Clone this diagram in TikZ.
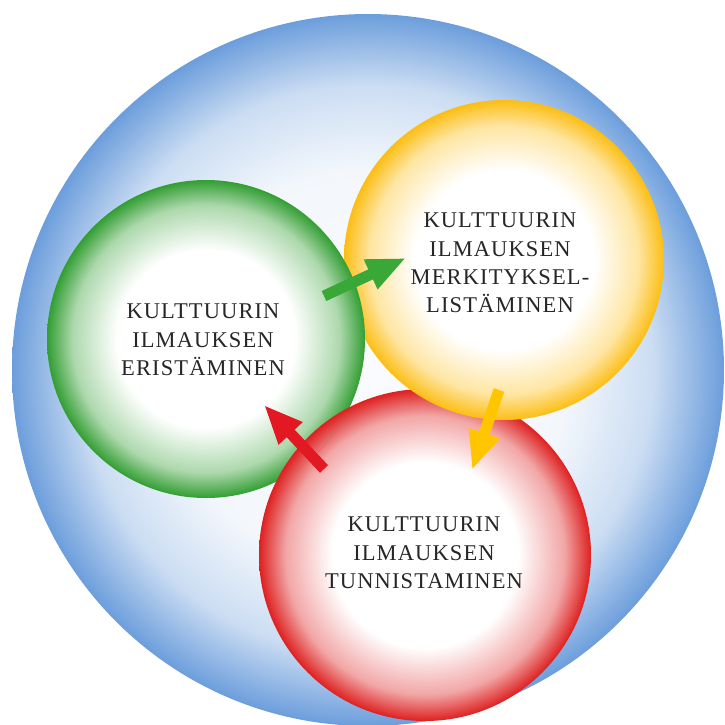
\documentclass[tikz,border=0pt]{standalone}
\usepackage{fontspec}
\setmainfont{Liberation Serif}[LetterSpace=5]
\usetikzlibrary{arrows.meta}
\tikzset {>={Triangle[length=7.8mm,width=6mm]}}
\definecolor{bluerim}{RGB}{108,158,220}
\definecolor{greenrim}{RGB}{50,158,50}
\definecolor{yellowrim}{RGB}{252,190,20}
\definecolor{redrim}{RGB}{222,32,32}
\definecolor{greenarrow}{RGB}{58,168,55}
\definecolor{yellowarrow}{RGB}{255,198,0}
\definecolor{redarrow}{RGB}{226,24,34}
\pgfdeclareradialshading{blueball}{\pgfpoint{0bp}{0bp}}{color(0bp)=(bluerim!4); color(14bp)=(bluerim!8); color(20bp)=(bluerim!35); color(25bp)=(bluerim); color(50bp)=(bluerim)}
\pgfdeclareradialshading{greenball}{\pgfpoint{0bp}{0bp}}{color(0bp)=(white); color(14bp)=(white); color(21bp)=(greenrim!40); color(25bp)=(greenrim); color(50bp)=(greenrim)}
\pgfdeclareradialshading{yellowball}{\pgfpoint{0bp}{0bp}}{color(0bp)=(white); color(14bp)=(white); color(21bp)=(yellowrim!40); color(25bp)=(yellowrim); color(50bp)=(yellowrim)}
\pgfdeclareradialshading{redball}{\pgfpoint{0bp}{0bp}}{color(0bp)=(white); color(14bp)=(white); color(21bp)=(redrim!40); color(25bp)=(redrim); color(50bp)=(redrim)}
\newcommand*{\lbl}{\fontsize{12.8}{16.2}\selectfont}

\begin{document}
\begin{tikzpicture}[x=0.2mm,y=-0.2mm,
  txt/.style={align=center,text=black!85,font=\lbl},
  fat/.style={->,line width=2.2mm}]
\useasboundingbox (0,0) rectangle (725,725);
\shade[shading=blueball] (368,370) circle (356);
\coordinate (G) at (206,339);
\coordinate (Y) at (504,260);
\coordinate (R) at (425,555);
\shade[shading=redball] (R) circle (166);
\shade[shading=yellowball] (Y) circle (160);
\shade[shading=greenball] (G) circle (159);
\begin{scope}
  \clip (G) circle (159);
  \shade[shading=redball] (R) circle (166);
\end{scope}
\node[txt] (gtext) at (203,340) {KULTTUURIN\\ILMAUKSEN\\ERISTÄMINEN};
\node[txt] (ytext) at (500,263) {KULTTUURIN\\ILMAUKSEN\\MERKITYKSEL-\\LISTÄMINEN};
\node[txt] (rtext) at (424,553) {KULTTUURIN\\ILMAUKSEN\\TUNNISTAMINEN};
\coordinate (g1) at (324,296);
\coordinate (g2) at (406,258);
\coordinate (y1) at (499,390);
\coordinate (y2) at (472,470);
\coordinate (r1) at (324,469);
\coordinate (r2) at (264,405);
\draw[fat,greenarrow] (g1) -- (g2);
\draw[fat,yellowarrow] (y1) -- (y2);
\draw[fat,redarrow] (r1) -- (r2);
\end{tikzpicture}
\end{document}
